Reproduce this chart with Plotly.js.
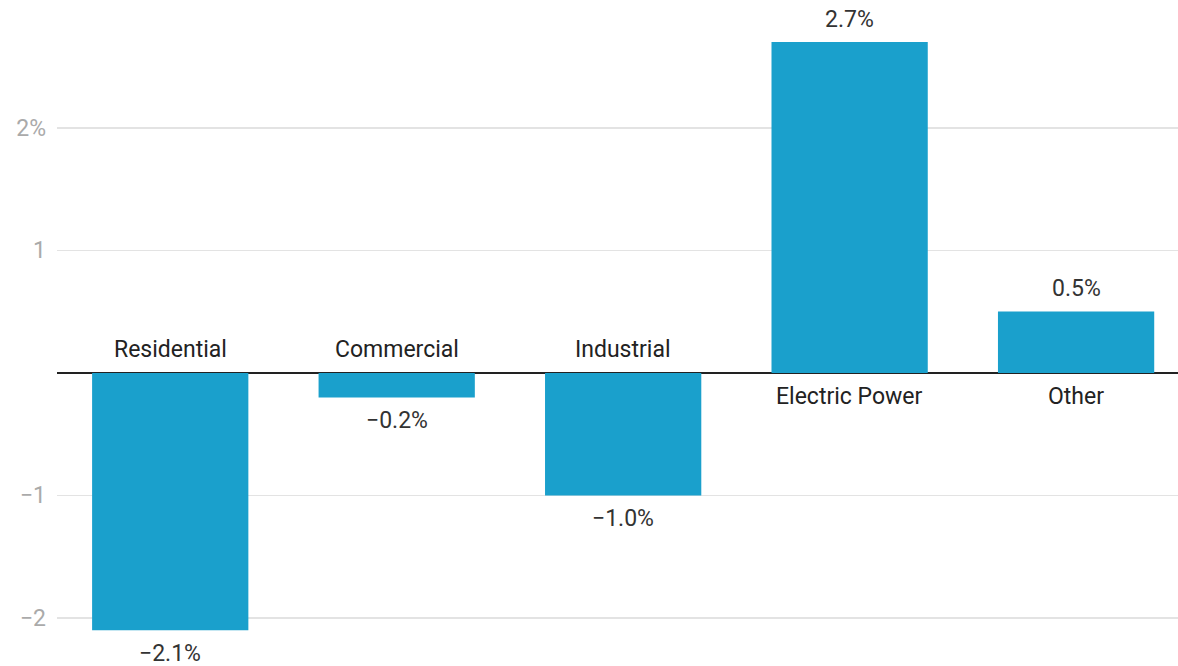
<!DOCTYPE html>
<html>
<head>
<meta charset="utf-8">
<script src="https://cdn.plot.ly/plotly-3.0.1.min.js"></script>
<style>
  html, body { margin: 0; padding: 0; background: #fff; }
  #chart { width: 1178px; height: 666px; }
</style>
</head>
<body>
<div id="chart"></div>
<script>
// Change by sector, percent
const sectors = ["Residential", "Commercial", "Industrial", "Electric Power", "Other"];
const changes = [-2.1, -0.2, -1.0, 2.7, 0.5];

const tickValues = [-2, -1, 1, 2];
const tickLabels = ["\u22122", "\u22121", "1", "2%"];

const barColor = "#1aa0cc";
const font = "Roboto, 'Noto Sans', sans-serif";
const fontSize = 23;

function fmtPct(v) {
  const s = Math.abs(v).toFixed(1) + "%";
  return v < 0 ? "\u2212" + s : s;
}

const xs = sectors.map((_, i) => i);

const trace = {
  type: "bar",
  x: xs,
  y: changes,
  width: 0.69,
  marker: { color: barColor, line: { width: 0 } },
  hoverinfo: "skip"
};

const annotations = [];
sectors.forEach((name, i) => {
  const v = changes[i];
  // sector name sits on the opposite side of the zero line from its bar
  annotations.push({
    x: i, y: 0, xref: "x", yref: "y",
    text: name, showarrow: false,
    yanchor: "middle", yshift: v < 0 ? 23 : -24,
    font: { family: font, size: fontSize, color: "#222" }
  });
  // value label just beyond the bar end
  annotations.push({
    x: i, y: v, xref: "x", yref: "y",
    text: fmtPct(v), showarrow: false,
    yanchor: "middle", yshift: v < 0 ? -23 : 23,
    font: { family: font, size: fontSize, color: "#333" }
  });
});

const layout = {
  width: 1178, height: 666,
  margin: { l: 57, r: 0, t: 20, b: 26 },
  paper_bgcolor: "#fff", plot_bgcolor: "#fff",
  showlegend: false,
  xaxis: {
    range: [-0.5, 4.45],
    showgrid: false, zeroline: false, showticklabels: false,
    ticks: "", showline: false, fixedrange: true
  },
  yaxis: {
    range: [-2.18, 2.88],
    tickvals: tickValues, ticktext: tickLabels,
    ticks: "", ticklabelstandoff: 10,
    tickfont: { family: font, size: fontSize, color: "#aaa" },
    showgrid: true, gridcolor: "#e3e3e3", gridwidth: 1.5,
    zeroline: true, zerolinecolor: "#222", zerolinewidth: 1.5,
    showline: false, fixedrange: true
  },
  annotations: annotations
};

Plotly.newPlot("chart", [trace], layout, { displayModeBar: false, staticPlot: true });
</script>
</body>
</html>
